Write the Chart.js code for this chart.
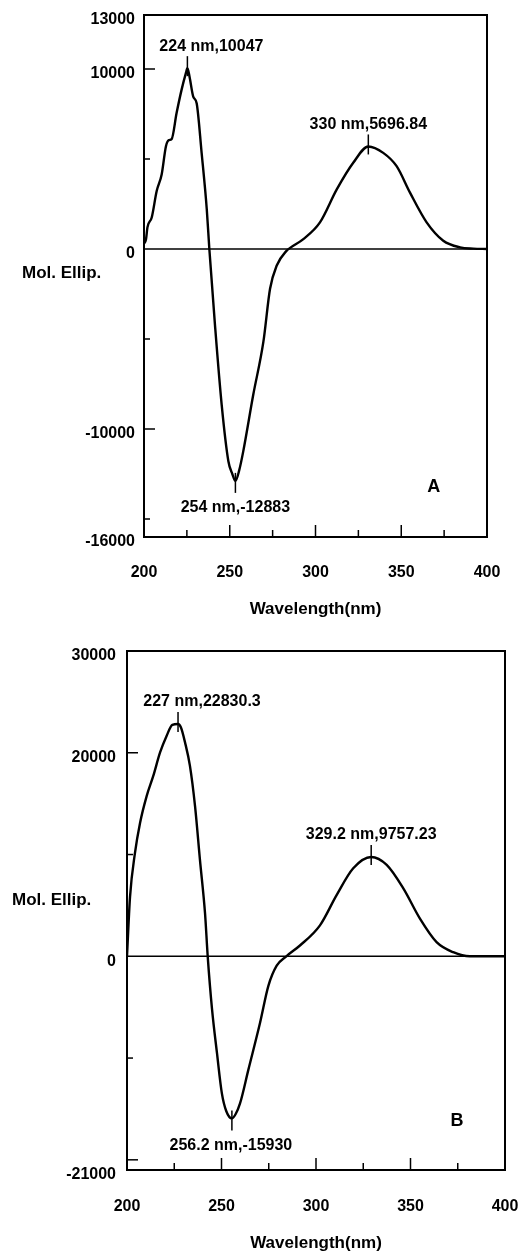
<!DOCTYPE html>
<html>
<head>
<meta charset="utf-8">
<script src="https://cdn.jsdelivr.net/npm/chart.js@4.4.0/dist/chart.umd.min.js"></script>
<style>
  html, body { margin: 0; padding: 0; background: #fff; }
  .panel { position: absolute; left: 0; width: 518px; }
  #panelA { top: 0; height: 630px; }
  #panelB { top: 630px; height: 626px; }
</style>
</head>
<body>
<div class="panel" id="panelA"><canvas id="chartA" width="518" height="630"></canvas></div>
<div class="panel" id="panelB"><canvas id="chartB" width="518" height="626"></canvas></div>
<script>
// Panel A - CD spectrum
const wavelengthA = [200, 201.2, 202, 204.5, 207.4, 210.3, 212.8, 214.5, 216.1, 219, 221.9, 224.5, 225.3, 226.5, 228.7,
  230.7, 233.6, 236.6, 238.1, 241.4, 245.3, 249.2, 251.5, 253.3, 255.5, 257.9, 263.7, 269.6, 273.5, 277.4,
  283.2, 285, 292.9, 302.6, 312.4, 322, 330.8, 339.5, 347.3, 355.1, 364.8, 374.5, 384.3, 392, 400];
const ellipA = [300, 550, 1200, 1750, 3220, 4140, 5710, 6050, 6100, 7550, 8840, 9800, 10047, 9600, 8470,
  8100, 5340, 2210, 0, -4240, -8660, -11790, -12500, -12883, -12300, -11230, -8100, -5160, -2210, -920,
  -90, 50, 550, 1480, 3310, 4790, 5697, 5340, 4600, 3130, 1480, 460, 90, 20, 0];

// Panel B - CD spectrum
const wavelengthB = [200, 201.6, 204.2, 206.9, 210.4, 213.9, 217.5, 221, 224, 227, 228.5, 230.7, 233.3, 236, 238.6,
  241.3, 242.7, 245, 247.6, 250.2, 252.5, 255.5, 257.5, 259.8, 264.2, 270.4, 274.8, 279.2, 284.3, 291.5,
  302.1, 310.9, 319.7, 329.2, 337.4, 346.2, 355, 363.8, 372.6, 381.4, 390, 400];
const ellipB = [0, 5840, 10130, 13100, 15740, 17720, 20030, 21680, 22750, 22830, 22500, 21020, 18710, 14750, 9470,
  4190, 0, -5220, -9500, -13470, -15200, -15930, -15500, -14460, -11160, -6530, -2900, -920, 0, 1060,
  3040, 6010, 8650, 9757, 8980, 6670, 3700, 1390, 400, 0, 0, 0];

// Axes
const xTickLabels = [200, 250, 300, 350, 400];
const xMinorMarks = [225, 275, 325, 375];
const yTickLabelsA = [13000, 10000, 0, -10000, -16000];
const yMajorMarksA = [10000, -10000];
const yMinorMarksA = [5000, -5000, -15000];
const yTickLabelsB = [30000, 20000, 0, -21000];
const yMajorMarksB = [20000, -20000];
const yMinorMarksB = [10000, -10000];

// Peak annotations
const peakTextA = ["224 nm,10047", "330 nm,5696.84", "254 nm,-12883"];
const peakXA = [225.3, 330.8, 253.3];
const peakYA = [10047, 5696.84, -12883];
const peakTextB = ["227 nm,22830.3", "329.2 nm,9757.23", "256.2 nm,-15930"];
const peakXB = [227, 329.2, 255.5];
const peakYB = [22830.3, 9757.23, -15930];

const FONT = '"Liberation Sans", Arial, sans-serif';

function line(ctx, x1, y1, x2, y2) {
  ctx.beginPath();
  ctx.moveTo(x1, y1);
  ctx.lineTo(x2, y2);
  ctx.stroke();
}

// box, inward ticks, zero line, labels
function makeDecor(cfg) {
  return {
    id: "decor",
    afterDraw(chart) {
      const ctx = chart.ctx;
      const a = chart.chartArea;
      const xs = chart.scales.x;
      const ys = chart.scales.y;
      ctx.save();
      ctx.strokeStyle = "#000";
      ctx.fillStyle = "#000";

      ctx.lineWidth = 1.5;
      const y0 = ys.getPixelForValue(0);
      line(ctx, a.left, y0, a.right, y0);

      ctx.lineWidth = 2;
      ctx.strokeRect(a.left, a.top, a.right - a.left, a.bottom - a.top);

      ctx.lineWidth = 1.5;
      xTickLabels.slice(1, -1).forEach((v) => {
        const px = xs.getPixelForValue(v);
        line(ctx, px, a.bottom, px, a.bottom - 12);
      });
      xMinorMarks.forEach((v) => {
        const px = xs.getPixelForValue(v);
        line(ctx, px, a.bottom, px, a.bottom - 7);
      });
      cfg.yMajor.forEach((v) => {
        const py = ys.getPixelForValue(v);
        line(ctx, a.left, py, a.left + 11, py);
      });
      cfg.yMinor.forEach((v) => {
        const py = ys.getPixelForValue(v);
        line(ctx, a.left, py, a.left + 6, py);
      });

      ctx.font = "bold 16px " + FONT;
      ctx.textAlign = "center";
      ctx.textBaseline = "middle";
      cfg.peakText.forEach((t, i) => {
        const px = xs.getPixelForValue(cfg.peakX[i]);
        const py = ys.getPixelForValue(cfg.peakY[i]);
        const up = cfg.peakY[i] > 0;
        ctx.lineWidth = 1.5;
        line(ctx, px, py - (up ? 12 : 8), px, py + (up ? 8 : 12));
        ctx.fillText(t, px + cfg.labelDx[i], py + (up ? -22 : 27));
      });

      ctx.font = "bold 17px " + FONT;
      ctx.textAlign = "left";
      ctx.fillText("Mol. Ellip.", cfg.yTitleX, cfg.yTitleY);

      ctx.font = "bold 18px " + FONT;
      ctx.textAlign = "center";
      ctx.fillText(cfg.letter, xs.getPixelForValue(cfg.letterX), ys.getPixelForValue(cfg.letterY));
      ctx.restore();
    },
  };
}

function makeChart(canvasId, cfg) {
  const points = cfg.x.map((v, i) => ({ x: v, y: cfg.y[i] }));
  return new Chart(document.getElementById(canvasId), {
    type: "line",
    data: {
      datasets: [
        {
          data: points,
          borderColor: "#000",
          borderWidth: 2.4,
          pointRadius: 0,
          cubicInterpolationMode: "monotone",
          fill: false,
        },
      ],
    },
    options: {
      responsive: false,
      animation: false,
      layout: { padding: { top: cfg.top, right: cfg.right, left: 0, bottom: 0 } },
      plugins: { legend: { display: false }, tooltip: { enabled: false } },
      scales: {
        x: {
          type: "linear",
          min: 200,
          max: 400,
          grid: { display: false, drawTicks: false },
          border: { display: false },
          afterBuildTicks: (s) => {
            s.ticks = xTickLabels.map((v) => ({ value: v }));
          },
          afterFit: (s) => {
            s.height = cfg.xHeight;
            s.paddingLeft = 0;
            s.paddingRight = 0;
          },
          ticks: {
            callback: (v) => String(v),
            padding: cfg.xPad,
            maxRotation: 0,
            color: "#000",
            font: { family: FONT, size: 16, weight: "bold" },
          },
          title: {
            display: true,
            text: "Wavelength(nm)",
            color: "#000",
            font: { family: FONT, size: 17, weight: "bold" },
            padding: { top: 0, bottom: cfg.titlePad },
          },
        },
        y: {
          type: "linear",
          min: cfg.yMin,
          max: cfg.yMax,
          grid: { display: false, drawTicks: false },
          border: { display: false },
          afterBuildTicks: (s) => {
            s.ticks = cfg.yLabels.map((v) => ({ value: v }));
          },
          afterFit: (s) => {
            s.width = cfg.yWidth;
            s.paddingTop = 0;
            s.paddingBottom = 0;
          },
          ticks: {
            callback: (v) => String(v),
            padding: cfg.yPad,
            labelOffset: 5,
            color: "#000",
            font: { family: FONT, size: 16, weight: "bold" },
          },
        },
      },
    },
    plugins: [makeDecor(cfg)],
  });
}

makeChart("chartA", {
  x: wavelengthA, y: ellipA, yMin: -16000, yMax: 13000,
  yLabels: yTickLabelsA, yMajor: yMajorMarksA, yMinor: yMinorMarksA,
  peakText: peakTextA, peakX: peakXA, peakY: peakYA, labelDx: [24, 0, 0],
  top: 15, right: 31, yWidth: 144, xHeight: 93, xPad: 26, yPad: 9, titlePad: 10,
  yTitleX: 22, yTitleY: 273, letter: "A", letterX: 369, letterY: -13200,
});

makeChart("chartB", {
  x: wavelengthB, y: ellipB, yMin: -21000, yMax: 30000,
  yLabels: yTickLabelsB, yMajor: yMajorMarksB, yMinor: yMinorMarksB,
  peakText: peakTextB, peakX: peakXB, peakY: peakYB, labelDx: [24, 0, -1],
  top: 21, right: 13, yWidth: 127, xHeight: 86, xPad: 27, yPad: 11, titlePad: 2,
  yTitleX: 12, yTitleY: 270, letter: "B", letterX: 374.6, letterY: -16140,
});
</script>
</body>
</html>
